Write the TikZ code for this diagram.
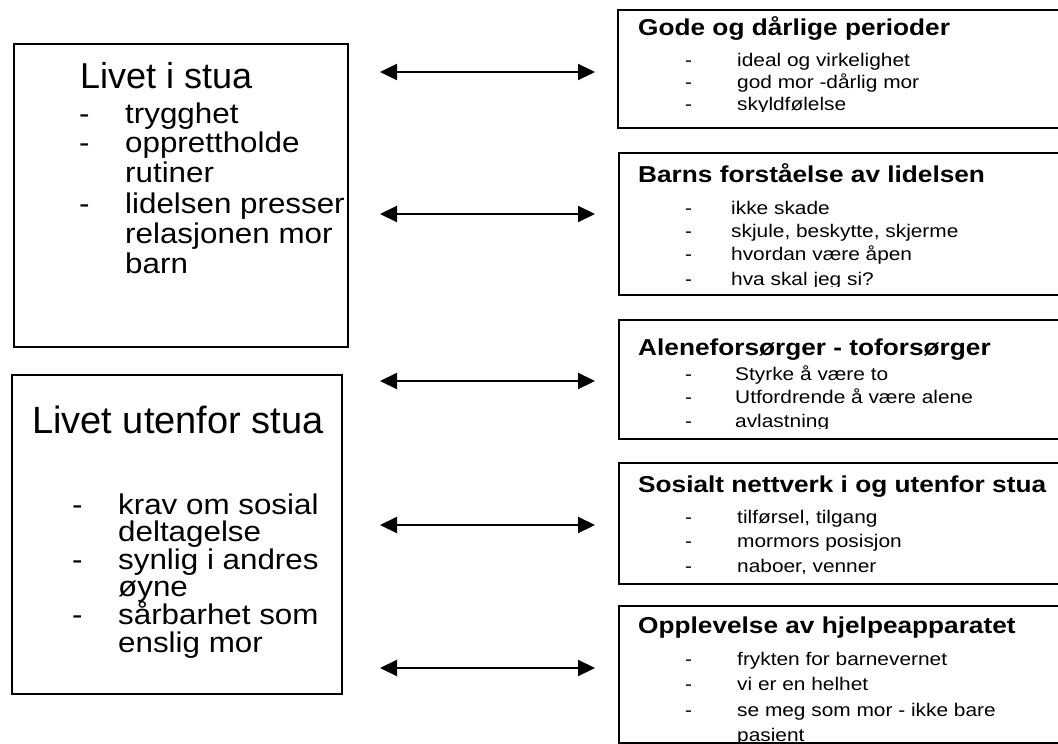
\documentclass[tikz,border=0pt]{standalone}
\usepackage{fontspec}
\setmainfont{Liberation Sans}
\newfontfamily\rfont{Liberation Sans}[FakeStretch=1.14]
\newfontfamily\lfont{Liberation Sans}[FakeStretch=1.1]
\usetikzlibrary{arrows.meta}
\tikzset{
  box/.style={draw=black, line width=1.8pt, inner sep=0pt, anchor=north west},
  txt/.style={inner sep=0pt, anchor=base west},
  ltitle/.style={txt, font=\fontsize{36}{36}\selectfont},
  ltitleb/.style={txt, font=\fontsize{38}{38}\selectfont},
  litem/.style={txt, font=\lfont\fontsize{28.5}{28.5}\selectfont},
  rtitle/.style={txt, font=\rfont\bfseries\fontsize{23}{23}\selectfont},
  ritem/.style={txt, font=\rfont\fontsize{18.3}{18.3}\selectfont},
  arr/.style={line width=2.2pt, {Triangle[length=17pt,width=16pt]}-{Triangle[length=17pt,width=16pt]}},
}
\begin{document}
\begin{tikzpicture}[x=1pt,y=-1pt]
\useasboundingbox (0,0) rectangle (1058,744);
\fill[white] (0,0) rectangle (1058,744);

% ---------- left box 1
\node[box, minimum width=334pt, minimum height=303pt] (L1) at (13,43) {};
\node[ltitle] (l1t) at (80,88) {Livet i stua};
\node[litem] (l1d1) at (79,123) {-};
\node[litem] (l1i1) at (125,123) {trygghet};
\node[litem] (l1d2) at (79,152) {-};
\node[litem] (l1i2) at (125,152) {opprettholde};
\node[litem] (l1i3) at (125,182) {rutiner};
\node[litem] (l1d3) at (79,213) {-};
\node[litem] (l1i4) at (125,213) {lidelsen presser};
\node[litem] (l1i5) at (125,243) {relasjonen mor};
\node[litem] (l1i6) at (125,273) {barn};

% ---------- left box 2
\node[box, minimum width=330pt, minimum height=319pt] (L2) at (11,374) {};
\node[ltitleb] (l2t) at (32,433) {Livet utenfor stua};
\node[litem] (l2d1) at (72,514) {-};
\node[litem] (l2i1) at (118,514) {krav om sosial};
\node[litem] (l2i2) at (118,541) {deltagelse};
\node[litem] (l2d2) at (72,569) {-};
\node[litem] (l2i3) at (118,569) {synlig i andres};
\node[litem] (l2i4) at (118,596) {øyne};
\node[litem] (l2d3) at (72,624) {-};
\node[litem] (l2i5) at (118,624) {sårbarhet som};
\node[litem] (l2i6) at (118,652) {enslig mor};

% ---------- right box 1
\node[box, minimum width=460pt, minimum height=118pt] (R1) at (617,9) {};
\begin{scope}
\clip (600,0) rectangle (1070,111);
\node[rtitle] (r1t) at (638,35) {Gode og dårlige perioder};
\node[ritem] (r1d1) at (685,66) {-};
\node[ritem] (r1i1) at (737,66) {ideal og virkelighet};
\node[ritem] (r1d2) at (685,88) {-};
\node[ritem] (r1i2) at (737,88) {god mor -dårlig mor};
\node[ritem] (r1d3) at (685,110) {-};
\node[ritem] (r1i3) at (737,110) {skyldfølelse};
\end{scope}

% ---------- right box 2
\node[box, minimum width=460pt, minimum height=142pt] (R2) at (618,152) {};
\begin{scope}
\clip (600,140) rectangle (1070,286);
\node[rtitle] (r2t) at (638,182) {Barns forståelse av lidelsen};
\node[ritem] (r2d1) at (685,214) {-};
\node[ritem] (r2i1) at (731,214) {ikke skade};
\node[ritem] (r2d2) at (685,237) {-};
\node[ritem] (r2i2) at (731,237) {skjule, beskytte, skjerme};
\node[ritem] (r2d3) at (685,260) {-};
\node[ritem] (r2i3) at (731,260) {hvordan være åpen};
\node[ritem] (r2d4) at (685,285) {-};
\node[ritem] (r2i4) at (731,285) {hva skal jeg si?};
\end{scope}

% ---------- right box 3
\node[box, minimum width=460pt, minimum height=119pt] (R3) at (618,319) {};
\begin{scope}
\clip (600,300) rectangle (1070,428);
\node[rtitle] (r3t) at (638,355) {Aleneforsørger - toforsørger};
\node[ritem] (r3d1) at (685,380) {-};
\node[ritem] (r3i1) at (735,380) {Styrke å være to};
\node[ritem] (r3d2) at (685,403) {-};
\node[ritem] (r3i2) at (735,403) {Utfordrende å være alene};
\node[ritem] (r3d3) at (685,427) {-};
\node[ritem] (r3i3) at (735,427) {avlastning};
\end{scope}

% ---------- right box 4
\node[box, minimum width=460pt, minimum height=121pt] (R4) at (618,462) {};
\begin{scope}
\clip (600,450) rectangle (1070,573);
\node[rtitle] (r4t) at (638,492) {Sosialt nettverk i og utenfor stua};
\node[ritem] (r4d1) at (685,523) {-};
\node[ritem] (r4i1) at (737,523) {tilførsel, tilgang};
\node[ritem] (r4d2) at (685,547) {-};
\node[ritem] (r4i2) at (737,547) {mormors posisjon};
\node[ritem] (r4d3) at (685,572) {-};
\node[ritem] (r4i3) at (737,572) {naboer, venner};
\end{scope}

% ---------- right box 5
\node[box, minimum width=460pt, minimum height=137pt] (R5) at (618,605) {};
\begin{scope}
\clip (600,590) rectangle (1070,741);
\node[rtitle] (r5t) at (638,633) {Opplevelse av hjelpeapparatet};
\node[ritem] (r5d1) at (685,665) {-};
\node[ritem] (r5i1) at (737,665) {frykten for barnevernet};
\node[ritem] (r5d2) at (685,690) {-};
\node[ritem] (r5i2) at (737,690) {vi er en helhet};
\node[ritem] (r5d3) at (685,716) {-};
\node[ritem] (r5i3) at (737,716) {se meg som mor - ikke bare};
\node[ritem] (r5i4) at (737,741) {pasient};
\end{scope}

% ---------- arrows
\coordinate (a1l) at (380,72);  \coordinate (a1r) at (595,72);
\coordinate (a2l) at (380,214); \coordinate (a2r) at (595,214);
\coordinate (a3l) at (380,381); \coordinate (a3r) at (595,381);
\coordinate (a4l) at (380,525); \coordinate (a4r) at (595,525);
\coordinate (a5l) at (380,668); \coordinate (a5r) at (595,668);
\draw[arr] (a1l) -- (a1r);
\draw[arr] (a2l) -- (a2r);
\draw[arr] (a3l) -- (a3r);
\draw[arr] (a4l) -- (a4r);
\draw[arr] (a5l) -- (a5r);
\end{tikzpicture}
\end{document}
